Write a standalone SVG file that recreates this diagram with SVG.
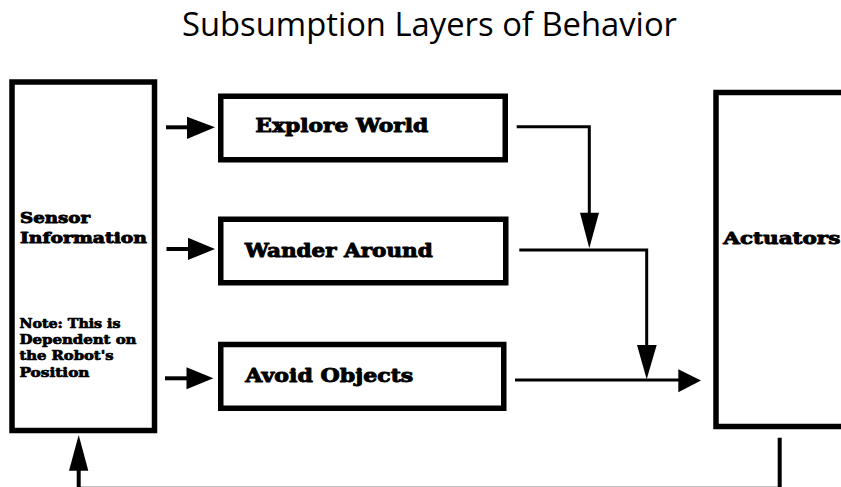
<svg xmlns="http://www.w3.org/2000/svg" width="841" height="487" viewBox="0 0 841 487">
<style>
.box{fill:#fff;stroke:#000;stroke-width:5.5}
.lbl{font-family:"DejaVu Serif","Liberation Serif",serif;font-weight:bold;fill:#000;stroke:#000;stroke-width:0.9;stroke-linejoin:round}
.sm{stroke-width:0.7}
.title{font-family:"Open Sans","Noto Sans","Liberation Sans",sans-serif;font-size:32px;fill:#000}
.ln{fill:none;stroke:#000}
.hd{fill:#000;stroke:none}
</style>
<rect width="841" height="487" fill="#fff"/>
<text class="title" x="182" y="36" textLength="495" lengthAdjust="spacingAndGlyphs">Subsumption Layers of Behavior</text>

<g id="sensor">
<rect class="box" x="12" y="82" width="142.5" height="348.5"/>
<text class="lbl" font-size="15.5" x="20" y="222.7" textLength="70" lengthAdjust="spacingAndGlyphs">Sensor</text>
<text class="lbl" font-size="15.5" x="20" y="242.7" textLength="127" lengthAdjust="spacingAndGlyphs">Information</text>
<text class="lbl sm" font-size="12.5" x="19.5" y="327.7" textLength="101" lengthAdjust="spacingAndGlyphs">Note: This is</text>
<text class="lbl sm" font-size="12.5" x="19.5" y="344" textLength="117" lengthAdjust="spacingAndGlyphs">Dependent on</text>
<text class="lbl sm" font-size="12.5" x="19.5" y="360.3" textLength="94" lengthAdjust="spacingAndGlyphs">the Robot's</text>
<text class="lbl sm" font-size="12.5" x="19.5" y="376.5" textLength="70" lengthAdjust="spacingAndGlyphs">Position</text>
</g>

<g id="explore">
<rect class="box" x="220.75" y="96.25" width="284.5" height="63.5"/>
<text class="lbl" font-size="18" x="255.3" y="131.7" textLength="173" lengthAdjust="spacingAndGlyphs">Explore World</text>
</g>

<g id="wander">
<rect class="box" x="220.75" y="219.25" width="285" height="63.5"/>
<text class="lbl" font-size="18" x="244.7" y="256.7" textLength="188" lengthAdjust="spacingAndGlyphs">Wander Around</text>
</g>

<g id="avoid">
<rect class="box" x="220.75" y="344.5" width="283" height="63.75"/>
<text class="lbl" font-size="18" x="245.3" y="381.7" textLength="168" lengthAdjust="spacingAndGlyphs">Avoid Objects</text>
</g>

<g id="actuators">
<rect class="box" x="716" y="92.5" width="160" height="334"/>
<text class="lbl" font-size="17" x="723.3" y="244" textLength="117" lengthAdjust="spacingAndGlyphs">Actuators</text>
</g>

<g id="connectors">
<line class="ln" stroke-width="4" x1="166" y1="127.3" x2="189" y2="127.3"/>
<polygon class="hd" points="187,116.7 215,127.3 187,139"/>
<line class="ln" stroke-width="4" x1="166.5" y1="249" x2="190" y2="249"/>
<polygon class="hd" points="188,237.7 215,249 188,260"/>
<line class="ln" stroke-width="4" x1="165" y1="378.3" x2="188" y2="378.3"/>
<polygon class="hd" points="186.5,367.3 213.3,378.3 186.5,389.3"/>
<polyline class="ln" stroke-width="3" points="516.7,126.7 589.3,126.7 589.3,215"/>
<polygon class="hd" points="580,212.7 599,212.7 589.3,248.3"/>
<polyline class="ln" stroke-width="3" points="519.3,250 646.7,250 646.7,347"/>
<polygon class="hd" points="637,345 656.7,345 646.7,379.3"/>
<line class="ln" stroke-width="3.2" x1="515" y1="380" x2="680" y2="380"/>
<polygon class="hd" points="678.3,369.3 701,380.5 678.3,392.3"/>
<polyline class="ln" stroke-width="4" points="779.7,437.7 779.7,488.7 78.7,488.7 78.7,468"/>
<polygon class="hd" points="69,470.7 88.3,470.7 78.7,435"/>
</g>
</svg>
